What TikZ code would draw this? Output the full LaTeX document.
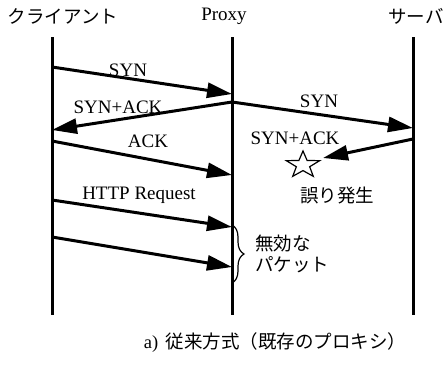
\documentclass[tikz,border=0pt]{standalone}
\usepackage{fontspec}
\setmainfont{Liberation Serif}
\newfontfamily\jpfont{Noto Sans CJK JP}
\usetikzlibrary{arrows.meta, shapes.geometric, decorations.pathreplacing}

\begin{document}
\begin{tikzpicture}[
    x=1pt, y=-1pt,
    >={Triangle[length=25pt, width=15pt]},
    % Node Styles
    msg/.style={font=\fontsize{19}{22}\selectfont, inner sep=0pt, anchor=base},
    jp/.style={font=\fontsize{18.5}{21}\selectfont\jpfont, inner sep=0pt, align=left},
    lifeline/.style={line width=3pt},
    packet/.style={->, line width=3pt},
    errmark/.style={star, star points=5, star point ratio=2.5, draw, line width=1.2pt,
        minimum size=28pt, inner sep=0pt, xscale=1.25, transform shape}
]

\useasboundingbox (0,0) rectangle (444,364);

% --- Headers ---
\node[jp] (client) at (63,16) {クライアント};
\node[msg] (proxy) at (224,20) {Proxy};
\node[jp, anchor=west] (server) at (388,16) {サーバ};

% --- Lifelines ---
\coordinate (clTop) at (52,37);   \coordinate (clBot) at (52,315);
\coordinate (pxTop) at (232,37);  \coordinate (pxBot) at (232,315);
\coordinate (svTop) at (413,37);  \coordinate (svBot) at (413,315);
\draw[lifeline] (clTop) -- (clBot);
\draw[lifeline] (pxTop) -- (pxBot);
\draw[lifeline] (svTop) -- (svBot);

% --- Message end points ---
\coordinate (c1) at (52,67);   \coordinate (p1) at (232,94);
\coordinate (p2) at (232,102); \coordinate (c2) at (52,130);
\coordinate (s1) at (413,128);
\coordinate (s2) at (413,139); \coordinate (lost) at (323,158);
\coordinate (c3) at (52,141);  \coordinate (p3) at (232,175);
\coordinate (c4) at (52,200);  \coordinate (p4) at (232,227);
\coordinate (c5) at (52,237);  \coordinate (p5) at (232,267);

% --- Handshake ---
\draw[packet] (c1) -- (p1);
\node[msg] (synA) at (128,76) {SYN};
\draw[packet] (p2) -- (c2);
\node[msg] (synackA) at (118,113) {SYN+ACK};
\draw[packet] (p2) -- (s1);
\node[msg] (synB) at (319,107) {SYN};
\draw[packet] (s2) -- (lost);
\node[msg] (synackB) at (295,144) {SYN+ACK};
\draw[packet] (c3) -- (p3);
\node[msg] (ackA) at (148,147) {ACK};

% --- Error ---
\node[errmark] (err) at (303,165) {};
\node[jp] (errText) at (337,196) {誤り発生};

% --- Requests ---
\draw[packet] (c4) -- (p4);
\node[msg] (httpReq) at (139,199) {HTTP Request};
\draw[packet] (c5) -- (p5);

% Invalid packets
\coordinate (brTop) at (232,225);
\coordinate (brBot) at (232,283);
\draw[line width=1.2pt, decorate, decoration={brace, amplitude=12pt}] (brTop) -- (brBot);
\node[jp, anchor=west] (invalid) at (255,254) {無効な\\パケット};

% --- Caption ---
\node[jp] (caption) at (275,343) {{\fontspec{Liberation Serif}a)}\hspace{0.4em}従来方式（既存のプロキシ）};

\end{tikzpicture}
\end{document}
